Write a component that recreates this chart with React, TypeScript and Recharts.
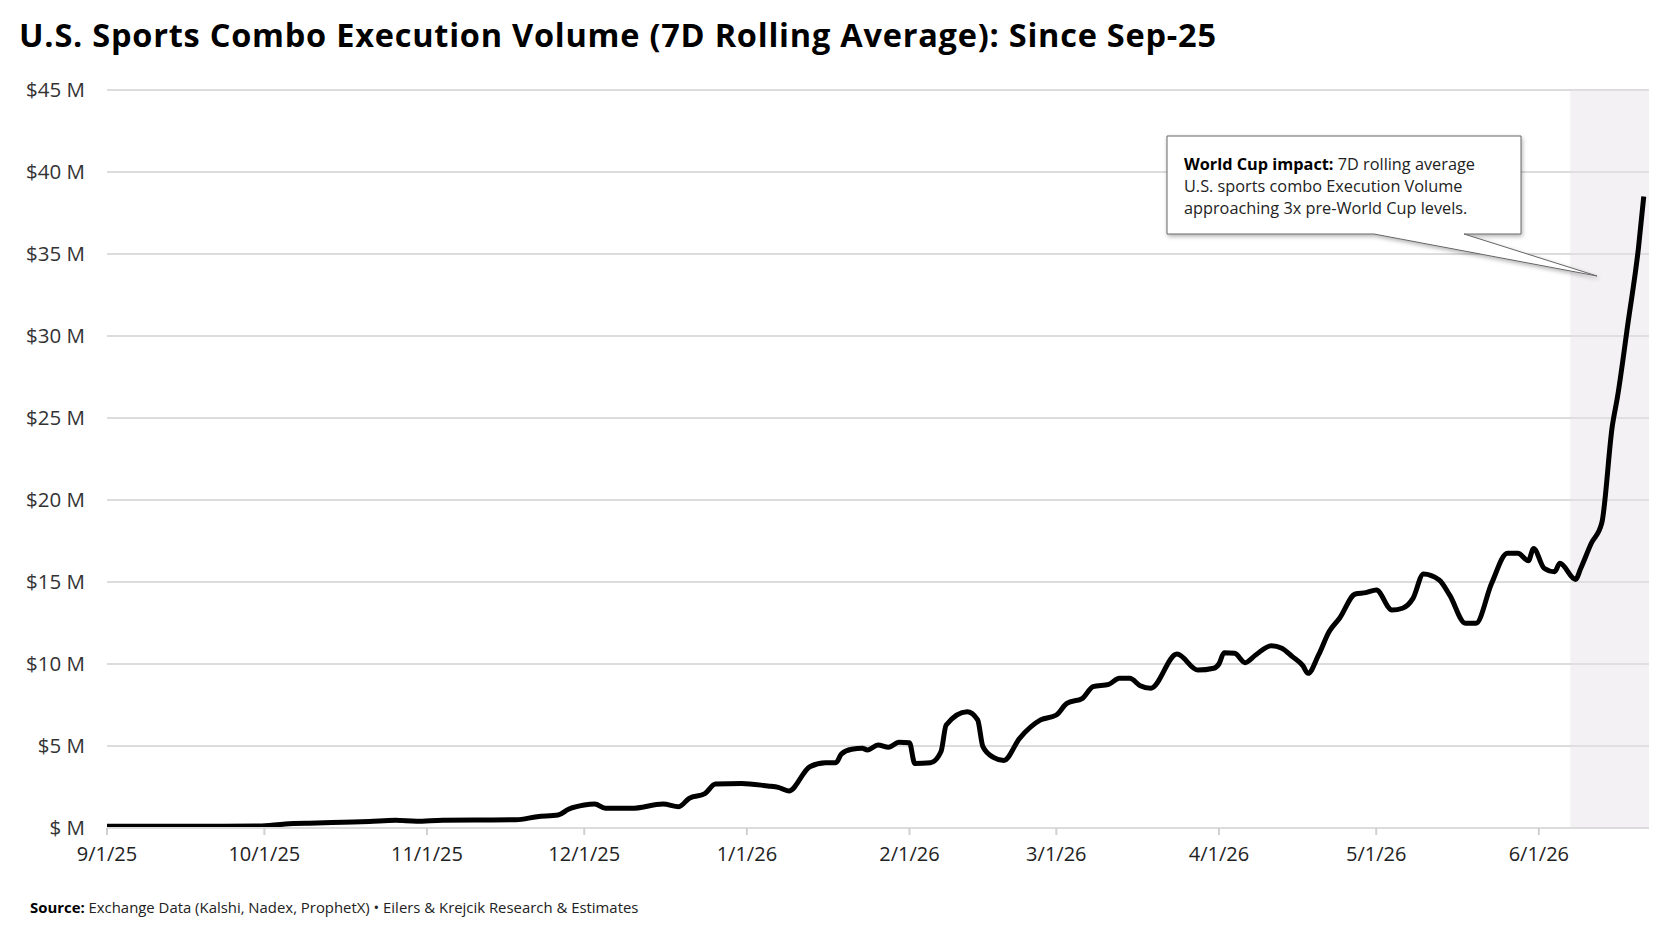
import { LineChart, Line, XAxis, YAxis, CartesianGrid, ReferenceArea } from 'recharts'

// 7D rolling average, $M
const dates = [
  '9/1/25', '9/16/25', '9/30/25', '10/5/25', '10/11/25', '10/16/25', '10/21/25', '10/26/25', '10/30/25',
  '11/4/25', '11/11/25', '11/18/25', '11/22/25', '11/26/25', '11/28/25',
  '12/1/25', '12/3/25', '12/5/25', '12/10/25', '12/16/25', '12/19/25', '12/21/25', '12/24/25', '12/26/25', '12/31/25',
  '1/5/26', '1/7/26', '1/9/26', '1/13/26', '1/16/26', '1/18/26', '1/19/26', '1/21/26', '1/23/26', '1/24/26',
  '1/26/26', '1/28/26', '1/30/26',
  '2/1/26', '2/2/26', '2/5/26', '2/7/26', '2/8/26', '2/12/26', '2/14/26', '2/15/26', '2/17/26', '2/19/26',
  '2/22/26', '2/26/26',
  '3/1/26', '3/3/26', '3/6/26', '3/8/26', '3/11/26', '3/13/26', '3/15/26', '3/17/26', '3/19/26', '3/24/26',
  '3/28/26', '3/31/26',
  '4/1/26', '4/2/26', '4/4/26', '4/6/26', '4/8/26', '4/11/26', '4/13/26', '4/15/26', '4/17/26', '4/18/26',
  '4/20/26', '4/22/26', '4/24/26', '4/27/26', '4/29/26',
  '5/1/26', '5/4/26', '5/6/26', '5/8/26', '5/10/26', '5/13/26', '5/15/26', '5/18/26', '5/20/26', '5/23/26',
  '5/26/26', '5/28/26', '5/30/26', '5/31/26',
  '6/2/26', '6/4/26', '6/5/26', '6/8/26', '6/9/26', '6/11/26', '6/13/26', '6/15/26', '6/16/26', '6/18/26',
  '6/20/26', '6/21/26',
]

const volume = [
  0.1, 0.1, 0.12, 0.25, 0.3, 0.35, 0.4, 0.47, 0.41,
  0.48, 0.49, 0.5, 0.69, 0.79, 1.14,
  1.4, 1.46, 1.2, 1.2, 1.46, 1.3, 1.81, 2.1, 2.68, 2.72,
  2.56, 2.48, 2.26, 3.74, 3.98, 3.98, 4.51, 4.8, 4.86, 4.76,
  5.06, 4.92, 5.23,
  5.2, 3.94, 3.98, 4.65, 6.28, 7.09, 6.6, 4.96, 4.31, 4.12,
  5.47, 6.59,
  6.89, 7.6, 7.91, 8.62, 8.76, 9.13, 9.13, 8.68, 8.52, 10.61,
  9.63, 9.74,
  10.0, 10.69, 10.65, 10.08, 10.55, 11.12, 10.96, 10.45, 9.9, 9.43,
  10.55, 11.97, 12.79, 14.27, 14.35,
  14.51, 13.29, 13.4, 14.0, 15.49, 15.12, 14.2, 12.48, 12.48, 14.92,
  16.75, 16.75, 16.3, 17.05,
  15.84, 15.63, 16.14, 15.16, 15.84, 17.36, 18.6, 24.5, 26.3, 30.8,
  35.4, 38.5,
]

const tickLabels = ['9/1/25', '10/1/25', '11/1/25', '12/1/25', '1/1/26', '2/1/26', '3/1/26', '4/1/26', '5/1/26', '6/1/26']
const yTicks = [0, 5, 10, 15, 20, 25, 30, 35, 40, 45]

const shadeStart = '6/7/26'
const axisEnd = '6/22/26'

const FONT = '"Open Sans", Lato, sans-serif'

function toTime(s: string) {
  const [m, d, y] = s.split('/').map(Number)
  return Date.UTC(2000 + y, m - 1, d)
}
const t0 = toTime(dates[0])
const dayOf = (s: string) => Math.round((toTime(s) - t0) / 86400000)

const data = dates.map((d, i) => ({ day: dayOf(d), value: volume[i] }))
const tickDays = tickLabels.map(dayOf)
const labelFor = (day: number) => tickLabels[tickDays.indexOf(day)] ?? ''

export default function App() {
  return (
    <div style={{ position: 'absolute', left: 0, top: 0, width: 1664, height: 934, background: '#fff', fontFamily: FONT }}>
      <LineChart
        width={1664}
        height={934}
        data={data}
        margin={{ top: 90, right: 15, bottom: 76, left: 17 }}
      >
        <CartesianGrid vertical={false} stroke="#dcdcdc" strokeWidth={2} />
        <ReferenceArea x1={dayOf(shadeStart)} x2={dayOf(axisEnd)} fill="#e4e1e4" fillOpacity={0.45} stroke="none" />
        <XAxis
          dataKey="day"
          type="number"
          domain={[0, dayOf(axisEnd)]}
          ticks={tickDays}
          tickFormatter={labelFor}
          height={30}
          axisLine={{ stroke: '#dcdcdc', strokeWidth: 2 }}
          tickLine={{ stroke: '#d0d0d0', strokeWidth: 2 }}
          tickSize={7}
          tickMargin={12}
          tick={{ fill: '#222', fontSize: 20, fontFamily: FONT }}
          interval={0}
        />
        <YAxis
          width={90}
          domain={[0, 45]}
          ticks={yTicks}
          axisLine={false}
          tickLine={false}
          tickSize={0}
          tickMargin={22}
          tickFormatter={(v: number) => (v === 0 ? '$ M' : `$${v} M`)}
          tick={{ fill: '#333', fontSize: 20.5, fontFamily: FONT }}
          interval={0}
        />
        <Line
          type="monotone"
          dataKey="value"
          stroke="#000"
          strokeWidth={5}
          dot={false}
          strokeLinejoin="round"
          isAnimationActive={false}
        />
      </LineChart>

      <svg width={1664} height={934} style={{ position: 'absolute', left: 0, top: 0, pointerEvents: 'none' }}>
        <defs>
          <filter id="shadow" x="-10%" y="-10%" width="130%" height="150%">
            <feDropShadow dx="1" dy="2" stdDeviation="2" floodColor="#000" floodOpacity="0.3" />
          </filter>
        </defs>
        <text
          x={19}
          y={47}
          fontFamily={FONT}
          fontSize={32.5}
          fontWeight={700}
          fill="#000"
          textLength={1197}
          lengthAdjust="spacing"
        >
          U.S. Sports Combo Execution Volume (7D Rolling Average): Since Sep-25
        </text>

        <path
          d="M1167,136 H1521 V234 H1464 L1597,276 L1374,234 H1167 Z"
          fill="#fff"
          stroke="#666"
          strokeWidth={1}
          filter="url(#shadow)"
        />
        <text fontFamily={FONT} fontSize={16.3} fill="#222">
          <tspan x={1184} y={170}>
            <tspan fontWeight={700} fill="#000">World Cup impact:</tspan> 7D rolling average
          </tspan>
          <tspan x={1184} y={192}>U.S. sports combo Execution Volume</tspan>
          <tspan x={1184} y={214}>approaching 3x pre-World Cup levels.</tspan>
        </text>

        <text x={30} y={913} fontFamily={FONT} fontSize={14.9} fill="#222">
          <tspan fontWeight={700} fill="#000">Source:</tspan> Exchange Data (Kalshi, Nadex, ProphetX) • Eilers &amp; Krejcik Research &amp; Estimates
        </text>
      </svg>
    </div>
  )
}
